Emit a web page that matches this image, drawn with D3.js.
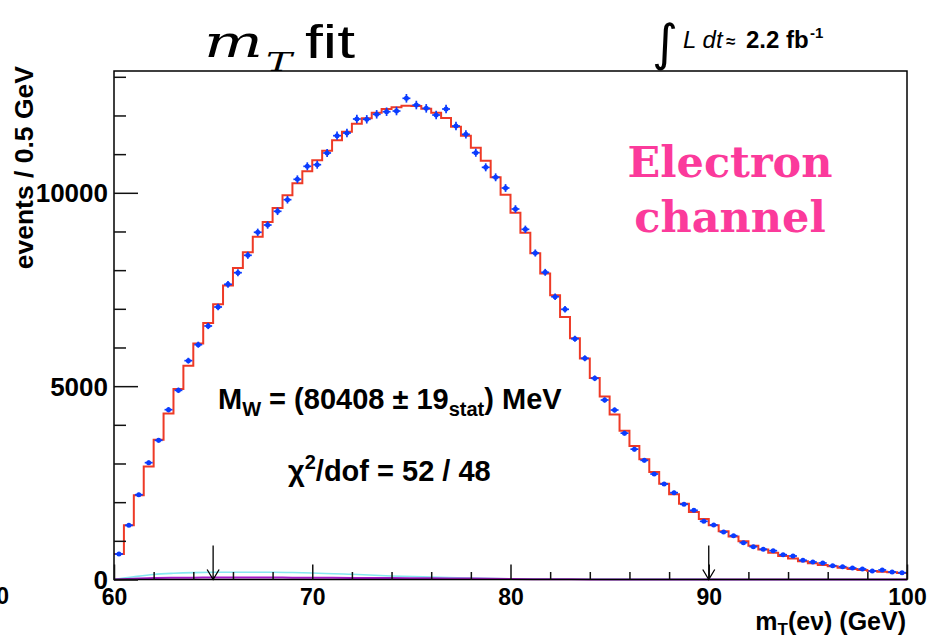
<!DOCTYPE html>
<html>
<head>
<meta charset="utf-8">
<script src="https://cdn.jsdelivr.net/npm/d3@7"></script>
<style>
  html, body { margin: 0; padding: 0; background: #ffffff; }
  svg { display: block; }
</style>
</head>
<body>
<svg id="chart" width="927" height="640"></svg>
<script>
// ---- data -------------------------------------------------------------
// transverse-mass histogram, 0.5 GeV bins from 60 to 100 GeV
const binLow = 60;
const binWidth = 0.5;
const binCenters = d3.range(80).map(i => binLow + (i + 0.5) * binWidth);

// measured events per bin
const dataCounts = [
  659, 1401, 2193, 3021, 3599, 4391, 4892, 5659, 6072, 6556,
  7047, 7634, 7934, 8384, 8979, 9167, 9522, 9822, 10349, 10685,
  10727, 11030, 11477, 11547, 11909, 11901, 12030, 12097, 12115, 12444,
  12270, 12184, 12012, 12167, 11727, 11512, 11037, 10659, 10401, 10124,
  9581, 9056, 8443, 7944, 7313, 6987, 6227, 5720, 5203, 4642,
  4383, 3785, 3371, 3082, 2728, 2470, 2245, 1945, 1789, 1505,
  1409, 1228, 1133, 952, 848, 781, 745, 641, 608, 497,
  453, 427, 357, 331, 297, 272, 220, 246, 194, 176
];

// best-fit template per bin
const fitCounts = [
  660, 1400, 2180, 2920, 3615, 4290, 4925, 5530, 6100, 6630,
  7120, 7600, 8055, 8460, 8865, 9245, 9605, 9935, 10245, 10560,
  10845, 11090, 11360, 11580, 11785, 11930, 12070, 12165, 12215, 12250,
  12245, 12175, 12070, 11935, 11710, 11475, 11165, 10830, 10400, 9950,
  9485, 8970, 8435, 7915, 7350, 6790, 6240, 5715, 5210, 4730,
  4270, 3845, 3455, 3110, 2780, 2475, 2205, 1960, 1745, 1565,
  1405, 1250, 1115, 990, 875, 775, 690, 610, 540, 475,
  420, 378, 340, 305, 274, 246, 222, 202, 185, 168
];

// background contributions
const bkgMT  = [60, 61, 62, 63, 64, 65, 66, 67, 68, 69, 70, 72, 74, 76, 78, 80, 82, 84, 86, 88, 90, 92, 94, 96, 98, 100];
const bkgZee = [0, 70, 130, 160, 178, 186, 188, 188, 186, 180, 170, 134, 92, 62, 38, 20, 10, 5, 3, 2, 2, 1, 1, 1, 0, 0];
const bkgQCD = [0, 20, 38, 45, 48, 50, 50, 50, 49, 48, 46, 42, 38, 32, 24, 14, 6, 2, 0, 0, 0, 0, 0, 0, 0, 0];

// fit window
const fitWindow = [65, 90];

// axes
const xMajorTicks = [60, 70, 80, 90, 100];
const xMinorTicks = [62, 64, 66, 68, 72, 74, 76, 78, 82, 84, 86, 88, 92, 94, 96, 98];
const yMajorTicks = [0, 5000, 10000];
const yMinorTicks = [1000, 2000, 3000, 4000, 6000, 7000, 8000, 9000, 11000, 12000, 13000];
const xDomain = [60, 100];
const yDomain = [0, 13150];

// ---- drawing ----------------------------------------------------------
const svg = d3.select("#chart");
const frameL = 114, frameR = 907, frameT = 71, frameB = 579.5;

const x = d3.scaleLinear().domain(xDomain).range([frameL, frameR]);
const y = d3.scaleLinear().domain(yDomain).range([frameB, frameT]);

const sans = "'Liberation Sans', Arial, Helvetica, sans-serif";
const serif = "'DejaVu Serif', 'Liberation Serif', serif";

// background curves
const bkgLine = (vals) => d3.line()
  .x((d, i) => x(bkgMT[i]))
  .y(d => y(d))
  .curve(d3.curveMonotoneX)(vals);

svg.append("path")
  .attr("d", bkgLine(bkgZee))
  .attr("fill", "none")
  .attr("stroke", "#86e8ef")
  .attr("stroke-width", 1.6);

svg.append("path")
  .attr("d", bkgLine(bkgQCD))
  .attr("fill", "none")
  .attr("stroke", "#a41bc8")
  .attr("stroke-width", 2);

// fit template as a step histogram
const stepPts = fitCounts.map((v, i) => [binLow + i * binWidth, v]);
stepPts.push([binLow + fitCounts.length * binWidth, fitCounts[fitCounts.length - 1]]);
svg.append("path")
  .attr("d", d3.line().x(d => x(d[0])).y(d => y(d[1])).curve(d3.curveStepAfter)(stepPts))
  .attr("fill", "none")
  .attr("stroke", "#ee3a26")
  .attr("stroke-width", 2);

// data points with statistical error bars
const blue = "#0a3cff";
const pts = svg.append("g");
binCenters.forEach((c, i) => {
  const v = dataCounts[i];
  const e = Math.sqrt(v);
  pts.append("line")
    .attr("x1", x(c)).attr("x2", x(c))
    .attr("y1", y(v - e)).attr("y2", y(v + e))
    .attr("stroke", blue).attr("stroke-width", 1.7);
  pts.append("line")
    .attr("x1", x(c - 0.2)).attr("x2", x(c + 0.2))
    .attr("y1", y(v)).attr("y2", y(v))
    .attr("stroke", blue).attr("stroke-width", 1.7);
  pts.append("circle")
    .attr("cx", x(c)).attr("cy", y(v)).attr("r", 2.5)
    .attr("fill", blue);
});

// fit-window arrows
fitWindow.forEach(m => {
  const g = svg.append("g").attr("stroke", "#000").attr("stroke-width", 1.3).attr("fill", "none");
  g.append("line").attr("x1", x(m)).attr("x2", x(m)).attr("y1", frameB - 34).attr("y2", frameB);
  g.append("path").attr("d", `M${x(m) - 6},${frameB - 10} L${x(m)},${frameB} L${x(m) + 6},${frameB - 10}`);
});

// frame
svg.append("rect")
  .attr("x", frameL).attr("y", frameT)
  .attr("width", frameR - frameL).attr("height", frameB - frameT)
  .attr("fill", "none").attr("stroke", "#000").attr("stroke-width", 1.5);

// x axis ticks and labels
const xAxisMajor = svg.append("g")
  .attr("transform", `translate(0,${frameB})`)
  .call(d3.axisBottom(x).tickValues(xMajorTicks).tickSize(-15).tickPadding(24).tickFormat(d3.format("d")));
const xAxisMinor = svg.append("g")
  .attr("transform", `translate(0,${frameB})`)
  .call(d3.axisBottom(x).tickValues(xMinorTicks).tickSize(-7.5).tickFormat(""));

// y axis ticks and labels
const yAxisMajor = svg.append("g")
  .attr("transform", `translate(${frameL},0)`)
  .call(d3.axisLeft(y).tickValues(yMajorTicks).tickSize(-24).tickPadding(6).tickFormat(d3.format("d")));
const yAxisMinor = svg.append("g")
  .attr("transform", `translate(${frameL},0)`)
  .call(d3.axisLeft(y).tickValues(yMinorTicks).tickSize(-12).tickFormat(""));

[xAxisMajor, xAxisMinor, yAxisMajor, yAxisMinor].forEach(a => {
  a.select(".domain").remove();
  a.selectAll(".tick line").attr("stroke", "#111").attr("stroke-width", 1.5);
});
xAxisMajor.selectAll(".tick text")
  .attr("font-family", sans).attr("font-weight", "bold").attr("font-size", 23)
  .attr("fill", "#000").attr("dy", 0).attr("y", 25);
yAxisMajor.selectAll(".tick text")
  .attr("font-family", sans).attr("font-weight", "bold").attr("font-size", 26)
  .attr("fill", "#000").attr("dy", "0.35em");

// fragment of a neighbouring label at the left edge
svg.append("text")
  .attr("x", 9).attr("y", 604)
  .attr("text-anchor", "end")
  .attr("font-family", sans).attr("font-weight", "bold").attr("font-size", 23)
  .text("100");

// axis titles
svg.append("text")
  .attr("transform", `translate(33,66) rotate(-90)`)
  .attr("text-anchor", "end")
  .attr("font-family", sans).attr("font-weight", "bold").attr("font-size", 26.5)
  .text("events / 0.5 GeV");

const xt = svg.append("text")
  .attr("x", 906).attr("y", 630)
  .attr("text-anchor", "end")
  .attr("font-family", sans).attr("font-weight", "bold").attr("font-size", 25);
xt.append("tspan").text("m");
xt.append("tspan").attr("font-size", 17).attr("dy", 5).text("T");
xt.append("tspan").attr("dy", -5).text("(eν) (GeV)");

// title
const title = svg.append("g");
title.append("text").attr("x", 204).attr("y", 57)
  .attr("font-family", serif).attr("font-style", "italic").attr("font-size", 44)
  .attr("textLength", 59).attr("lengthAdjust", "spacingAndGlyphs")
  .text("m");
title.append("text").attr("x", 266).attr("y", 71)
  .attr("font-family", serif).attr("font-style", "italic").attr("font-size", 26)
  .attr("textLength", 26).attr("lengthAdjust", "spacingAndGlyphs")
  .text("T");
title.append("text").attr("x", 305).attr("y", 58)
  .attr("font-family", sans).attr("font-size", 46)
  .attr("textLength", 50).attr("lengthAdjust", "spacingAndGlyphs")
  .text("fit");

// integrated luminosity
svg.append("text")
  .attr("x", 652).attr("y", 60)
  .attr("font-family", "'DejaVu Sans', sans-serif").attr("font-size", 50)
  .text("∫");
const lumi = svg.append("g").attr("font-family", sans);
lumi.append("text").attr("x", 683).attr("y", 48).attr("font-size", 24).attr("font-style", "italic").text("L dt");
lumi.append("text").attr("x", 726).attr("y", 47).attr("font-size", 17).attr("font-weight", "bold").text("≈");
lumi.append("text").attr("x", 746).attr("y", 48).attr("font-size", 24).attr("font-weight", "bold").text("2.2 fb");
lumi.append("text").attr("x", 810).attr("y", 38).attr("font-size", 15).attr("font-weight", "bold").text("-1");

// channel label
const chan = svg.append("g")
  .attr("font-family", serif).attr("font-weight", "bold").attr("font-size", 43)
  .attr("fill", "#fb3a9b").attr("text-anchor", "middle");
chan.append("text").attr("x", 730).attr("y", 177).text("Electron");
chan.append("text").attr("x", 730).attr("y", 232).text("channel");

// fit results
const res1 = svg.append("text").attr("x", 218).attr("y", 409)
  .attr("font-family", sans).attr("font-weight", "bold").attr("font-size", 29);
res1.append("tspan").text("M");
res1.append("tspan").attr("font-size", 20).attr("dy", 7).text("W");
res1.append("tspan").attr("dy", -7).text(" = (80408 ± 19");
res1.append("tspan").attr("font-size", 20).attr("dy", 7).text("stat");
res1.append("tspan").attr("dy", -7).text(") MeV");

const res2 = svg.append("text").attr("x", 288).attr("y", 481)
  .attr("font-family", sans).attr("font-weight", "bold").attr("font-size", 29);
res2.append("tspan").text("χ");
res2.append("tspan").attr("font-size", 20).attr("dy", -12).text("2");
res2.append("tspan").attr("dy", 12).text("/dof = 52 / 48");
</script>
</body>
</html>
